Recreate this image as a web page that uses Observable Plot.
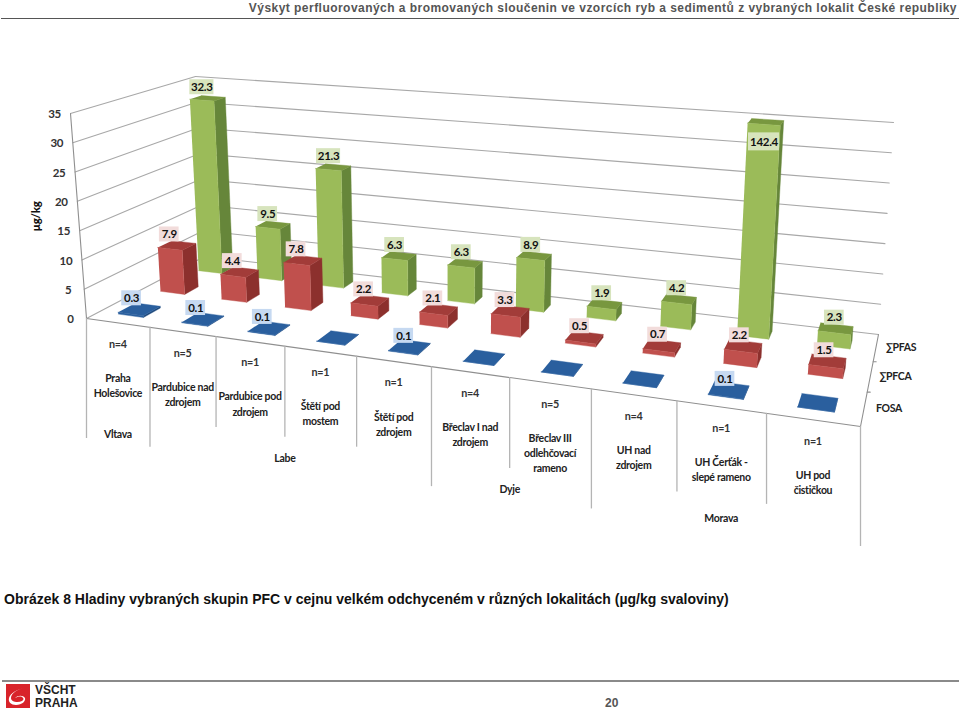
<!DOCTYPE html>
<html lang="cs">
<head>
<meta charset="utf-8">
<script src="https://cdn.jsdelivr.net/npm/d3@7"></script>
<script src="https://cdn.jsdelivr.net/npm/@observablehq/plot@0.6"></script>
<style>
html,body{margin:0;padding:0;background:#fff}
#page{position:relative;width:959px;height:712px;overflow:hidden;font-family:"Liberation Sans",Arial,sans-serif}
#head{position:absolute;right:2px;top:0;font-weight:bold;font-size:12px;line-height:17px;color:#555;white-space:nowrap;letter-spacing:.46px}
#rule1{position:absolute;left:1px;right:0;top:18px;height:1px;background:#555}
#chart{position:absolute;left:0;top:19px}
#caption{position:absolute;left:4px;top:591px;font-weight:bold;font-size:14px;line-height:16px;color:#111;white-space:nowrap}
#rule2{position:absolute;left:2px;right:0;top:680px;height:2px;background:#8a8a8a}
#logo{position:absolute;left:6px;top:684px}
#org{position:absolute;left:35px;top:684px;font-weight:bold;font-size:12px;line-height:13px;color:#222}
#pg{position:absolute;left:605px;top:696px;font-weight:bold;font-size:12px;line-height:15px;color:#555}
</style>
</head>
<body>
<div id="page">
<div id="head">Výskyt perfluorovaných a bromovaných sloučenin ve vzorcích ryb a sedimentů z vybraných lokalit České republiky</div>
<div id="rule1"></div>
<div id="chart"></div>
<div id="caption">Obrázek 8 Hladiny vybraných skupin PFC v cejnu velkém odchyceném v různých lokalitách (µg/kg svaloviny)</div>
<div id="rule2"></div>
<svg id="logo" width="24" height="24" viewBox="0 0 24 24"><rect width="24" height="24" fill="#d8232a"/><path d="M19 4C12 5 5 9 5 14c0 4 7 5 11 3 2-1 2-3 0-4-2-1-5 0-7 1 3-3 8-3 10 0 1 3-3 7-9 7-5 0-8-3-7-7 1-5 9-9 16-10z" fill="#fff"/></svg>
<div id="org">VŠCHT<br>PRAHA</div>
<div id="pg">20</div>
</div>
<script>
// ---- data ----
const sites = ["Praha\nHolešovice","Pardubice nad\nzdrojem","Pardubice pod\nzdrojem","Štětí pod\nmostem","Štětí pod\nzdrojem","Břeclav I nad\nzdrojem","Břeclav III\nodlehčovací\nrameno","UH nad\nzdrojem","UH Čerťák -\nslepé rameno","UH pod\nčističkou"];
const counts = ["n=4","n=5","n=1","n=1","n=1","n=4","n=5","n=4","n=1","n=1"];
const rivers = ["Vltava","Labe","Dyje","Morava"];
const riverSpans = [[0,1],[1,5],[5,7],[7,10]];
const seriesNames = ["FOSA","∑PFCA","∑PFAS"];
const fosa = [0.3,0.1,0.1,null,0.1,null,null,null,0.1,null];
const pfca = [7.9,4.4,7.8,2.2,2.1,3.3,0.5,0.7,2.2,1.5];
const pfas = [32.3,9.5,21.3,6.3,6.3,8.9,1.9,4.2,142.4,2.3];
const yTicks = [0,5,10,15,20,25,30,35];
const yMax = 35;
const nCat = sites.length;

// ---- 3D view: floor and ceiling quads of the chart box (page pixels) ----
const floorQuad = [[86,318],[860,426],[878,334],[204,256]]; // front-left, front-right, back-right, back-left
const ceilQuad  = [[70,113],[876,177],[893,122],[195,76]];
function homography([p0,p1,p2,p3]){
  const sx=p0[0]-p1[0]+p2[0]-p3[0], sy=p0[1]-p1[1]+p2[1]-p3[1];
  const dx1=p1[0]-p2[0], dx2=p3[0]-p2[0], dy1=p1[1]-p2[1], dy2=p3[1]-p2[1];
  const den=dx1*dy2-dx2*dy1;
  const g=(sx*dy2-dx2*sy)/den, h=(dx1*sy-sx*dy1)/den;
  const a=p1[0]-p0[0]+g*p1[0], b=p3[0]-p0[0]+h*p3[0], c=p0[0];
  const d=p1[1]-p0[1]+g*p1[1], e=p3[1]-p0[1]+h*p3[1], f=p0[1];
  return (s,t)=>{const w=g*s+h*t+1;return [(a*s+b*t+c)/w,(d*s+e*t+f)/w];};
}
const hF=homography(floorQuad), hC=homography(ceilQuad);
function P(u,v,val){ // category position, depth 0..1, value
  const a=hF(u/nCat,v), b=hC(u/nCat,v), w=Math.min(val,yMax)/yMax;
  return [a[0]+(b[0]-a[0])*w, a[1]+(b[1]-a[1])*w];
}

// ---- build tables ----
const halfU=0.2, halfV=[0.068,0.06,0.052];
const palette=[
  {front:"#2a5f9e",side:"#1f4a7d",top:"#2a5f9e",bg:"#c6d9f1"},
  {front:"#c0504d",side:"#8c302d",top:"#a23c39",bg:"#f2dcdb"},
  {front:"#9bbb59",side:"#66863a",top:"#78973f",bg:"#d7e4bd"}
];
const columns=[fosa,pfca,pfas];
const faces=[], labels=[];
[2,1,0].forEach(r=>{
  const vc=(r+.5)/3;
  columns[r].forEach((val,i)=>{
    const uc=i+.5, h=val??0;
    const u0=uc-halfU,u1=uc+halfU,v0=vc-halfV[r],v1=vc+halfV[r];
    const add=(kind,pts)=>pts.forEach(([x,y])=>faces.push({id:`${r}-${i}-${kind}`,x,y,fill:palette[r][kind]}));
    add("side",[P(u1,v0,0),P(u1,v1,0),P(u1,v1,h),P(u1,v0,h)]);
    add("top",[P(u0,v0,h),P(u1,v0,h),P(u1,v1,h),P(u0,v1,h)]);
    add("front",[P(u0,v0,0),P(u1,v0,0),P(u1,v0,h),P(u0,v0,h)]);
    if(val!=null){
      const [cx,cy]=P(uc,vc,h);
      const over=val>yMax;
      const x=cx-8+5*uc/nCat+(r===2?2:0), y=cy+(over?20:-11);
      const txt=String(val), w=txt.length*4.4+(txt.length>4?9:6.5), hh=over?18:15;
      labels.push({x,y,txt,bg:palette[r].bg,x1:x-w/2,x2:x+w/2,y1:y-hh/2,y2:y+hh/2});
    }
  });
});
const grid=[];
yTicks.forEach(t=>{
  grid.push({id:`l${t}`,p:P(0,0,t)},{id:`l${t}`,p:P(0,1,t)},{id:`b${t}`,p:P(0,1,t)},{id:`b${t}`,p:P(nCat,1,t)});
});
const edges=[
  {id:"e1",p:P(0,0,0)},{id:"e1",p:P(nCat,0,0)},{id:"e1",p:P(nCat,1,0)},
  {id:"e2",p:P(0,0,0)},{id:"e2",p:P(0,0,yMax)},
  {id:"t1",p:P(nCat,1/3,0)},{id:"t1",p:[P(nCat,1/3,0)[0]+3,P(nCat,1/3,0)[1]]},
  {id:"t2",p:P(nCat,2/3,0)},{id:"t2",p:[P(nCat,2/3,0)[0]+3,P(nCat,2/3,0)[1]]}
];
const longBounds=new Set(riverSpans.flat());
const bounds=d3.range(nCat+1).map(i=>{const [x,y]=P(i,0,0);return {x,y1:y,y2:y+(longBounds.has(i)?120:91)};});
const catRows=sites.map((s,i)=>{const [x,y]=P(i+.5,0,0);return {x,y,site:s,n:counts[i]};});
const riverRows=rivers.map((r,i)=>{const [x,y]=P((riverSpans[i][0]+riverSpans[i][1])/2,0,0);return {x,y,r};});
const seriesRows=seriesNames.map((s,i)=>{const [x,y]=P(nCat,(i+.5)/3,0);return {x,y,s};});
const tickRows=yTicks.map(t=>{const [x,y]=P(0,0,t);return {x,y,t};});

const font="Lato, 'Open Sans', sans-serif";
const chart=Plot.plot({
  width:959,height:541,margin:0,
  x:{domain:[0,959],range:[0,959],axis:null},
  y:{domain:[19,560],range:[0,541],axis:null},
  style:{background:"transparent",fontFamily:font,letterSpacing:"-0.3px"},
  marks:[
    Plot.line(grid,{x:d=>d.p[0],y:d=>d.p[1],z:"id",stroke:"#a8a8a8",strokeWidth:1.1}),
    Plot.line(edges,{x:d=>d.p[0],y:d=>d.p[1],z:"id",stroke:"#8f8f8f",strokeWidth:1.1}),
    Plot.ruleX(bounds,{x:"x",y1:"y1",y2:"y2",stroke:"#b4b4b4",strokeWidth:1.3}),
    Plot.line(faces,{x:"x",y:"y",z:"id",fill:"fill",stroke:"fill",strokeWidth:.4}),
    Plot.rect(labels,{x1:"x1",x2:"x2",y1:"y1",y2:"y2",fill:"bg"}),
    Plot.text(labels,{x:"x",y:"y",text:"txt",fontSize:11.5,fontWeight:700,fill:"#111"}),
    Plot.text(tickRows,{x:"x",y:"y",text:"t",dx:-16,dy:1,fontSize:11.5,fontWeight:700,fill:"#333"}),
    Plot.text(["µg/kg"],{x:()=>36,y:()=>216,text:d=>d,rotate:-90,fontSize:11.5,fontWeight:900,fill:"#111"}),
    Plot.text(catRows,{x:"x",y:"y",text:"n",dy:21.5,fontSize:10.8,fontWeight:700,fill:"#333"}),
    Plot.text(catRows,{x:"x",y:"y",text:"site",dy:48.5,lineAnchor:"top",lineHeight:1.43,fontSize:10.5,fontWeight:700,fill:"#222"}),
    Plot.text(riverRows,{x:"x",y:"y",text:"r",dy:112,fontSize:10.5,fontWeight:700,fill:"#222"}),
    Plot.text(seriesRows,{x:"x",y:"y",text:"s",dx:25,fontSize:10.5,fontWeight:700,fill:"#222"})
  ]
});
document.getElementById("chart").append(chart);
</script>
</body>
</html>
